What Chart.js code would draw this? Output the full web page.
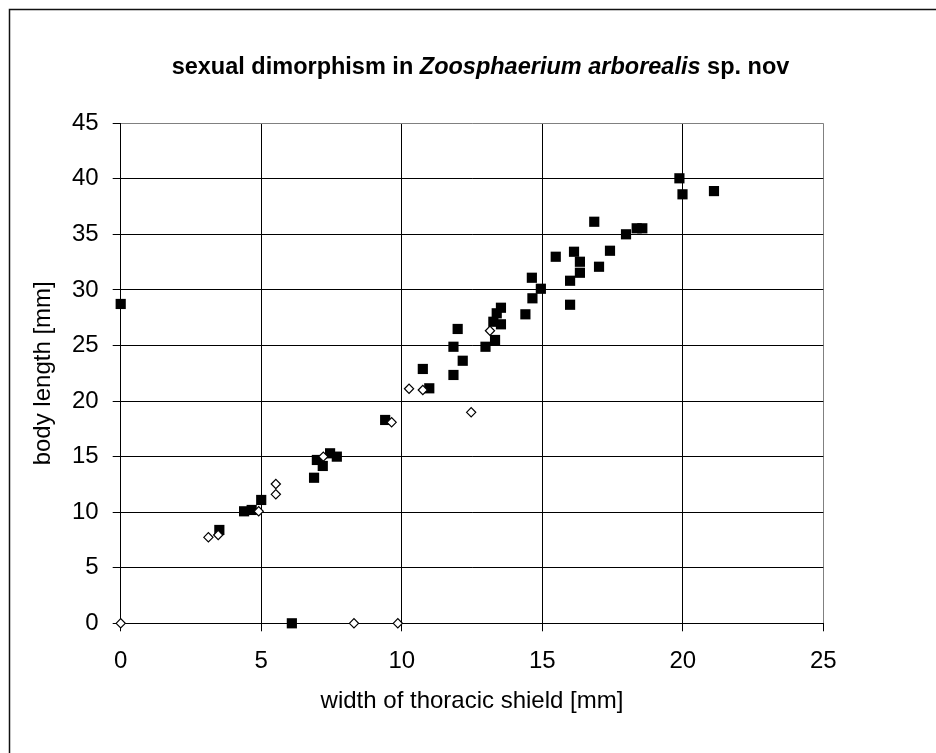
<!DOCTYPE html>
<html lang="en">
<head>
    <meta charset="UTF-8" />
    <title>sexual dimorphism in Zoosphaerium arborealis sp. nov</title>
    <style>
        body {
            margin: 0;
            padding: 0;
            background-color: #ffffff;
        }

        #wrap {
            width: 936px;
            height: 753px;
        }
    </style>
    <script src="https://cdn.jsdelivr.net/npm/chart.js"></script>
</head>
<body>
    <div id="wrap">
        <canvas id="dimorphChart" width="936" height="753"></canvas>
    </div>

    <script>
    // filled squares
    const filledX = [0, 6.09, 3.51, 4.39, 4.66, 5.0, 6.88, 6.98, 7.19, 7.45, 7.69, 9.41,
      10.98, 10.75, 11.84, 11.99, 11.84, 12.17, 12.98, 13.32, 13.26, 13.38, 13.53, 13.53,
      14.40, 14.65, 14.63, 14.95, 15.48, 15.99, 15.99, 16.13, 16.34, 16.34, 16.85, 17.02,
      17.41, 17.98, 18.36, 18.56, 19.88, 19.99, 21.11];
    const filledY = [28.74, 0, 8.40, 10.08, 10.2, 11.1, 13.1, 14.7, 14.16, 15.3, 15.0, 18.3,
      21.15, 22.89, 22.35, 26.49, 24.89, 23.63, 24.89, 25.5, 27.14, 27.9, 28.4, 26.91,
      27.81, 29.25, 31.1, 30.11, 32.99, 28.67, 30.83, 33.44, 32.54, 31.55, 36.14, 32.09,
      33.53, 35.01, 35.55, 35.55, 40.05, 38.61, 38.9];

    // open diamonds
    const openX = [0, 8.30, 9.86, 3.12, 3.47, 4.91, 5.52, 5.52, 7.21, 9.64, 10.26, 10.75, 12.47, 13.14];
    const openY = [0, 0, 0, 7.74, 7.95, 10.08, 12.54, 11.61, 15.0, 18.09, 21.11, 21.0, 18.99, 26.33];

    const titleParts = [
      ['sexual dimorphism in ', 'bold'],
      ['Zoosphaerium arborealis', 'italic bold'],
      [' sp. nov', 'bold']
    ];
    const xTitle = 'width of thoracic shield [mm]';
    const yTitle = 'body length [mm]';

    const FONT = '"Liberation Sans", Arial, sans-serif';

    function toPoints(xs, ys) {
      return xs.map((x, i) => ({ x: x, y: ys[i] }));
    }

    // frame round the whole chart and the mixed-style title
    const decor = {
      id: 'decor',
      afterDraw(chart) {
        const ctx = chart.ctx;
        ctx.save();
        ctx.strokeStyle = '#111';
        ctx.lineWidth = 1.5;
        ctx.strokeRect(9.5, 9.5, 1000, 1000);

        ctx.fillStyle = '#000';
        ctx.textBaseline = 'alphabetic';
        let total = 0;
        titleParts.forEach(p => {
          ctx.font = p[1] + ' 23.5px ' + FONT;
          total += ctx.measureText(p[0]).width;
        });
        let x = 480.5 - total / 2;
        titleParts.forEach(p => {
          ctx.font = p[1] + ' 23.5px ' + FONT;
          ctx.fillText(p[0], x, 73.5);
          x += ctx.measureText(p[0]).width;
        });
        ctx.restore();
      }
    };

    new Chart(document.getElementById('dimorphChart'), {
      type: 'scatter',
      data: {
        datasets: [{
          label: 'filled',
          data: toPoints(filledX, filledY),
          pointStyle: 'rect',
          pointRadius: 7.2,
          pointHoverRadius: 7.2,
          backgroundColor: '#000',
          borderColor: '#000',
          borderWidth: 0,
          clip: false,
          order: 2
        }, {
          label: 'open',
          data: toPoints(openX, openY),
          pointStyle: 'rectRot',
          pointRadius: 4.6,
          pointHoverRadius: 4.6,
          backgroundColor: '#fff',
          borderColor: '#000',
          borderWidth: 1.2,
          clip: false,
          order: 1
        }]
      },
      options: {
        responsive: false,
        animation: false,
        layout: { padding: { left: 0, top: 123.3, right: 112.7, bottom: 0 } },
        plugins: {
          legend: { display: false },
          tooltip: { enabled: false }
        },
        scales: {
          x: {
            type: 'linear',
            min: 0,
            max: 25,
            afterFit: s => { s.height = 129.7; },
            ticks: {
              stepSize: 5,
              padding: 16,
              color: '#000',
              font: { family: FONT, size: 24 }
            },
            grid: {
              color: c => c.tick && c.tick.value === 25 ? '#808080' : '#000',
              tickColor: '#000',
              tickLength: 8,
              lineWidth: 1
            },
            border: { color: '#000', width: 1 },
            title: {
              display: true,
              text: xTitle,
              color: '#000',
              font: { family: FONT, size: 24 },
              padding: { top: 0, bottom: 37 }
            }
          },
          y: {
            type: 'linear',
            min: 0,
            max: 45,
            afterFit: s => { s.width = 120.7; },
            ticks: {
              stepSize: 5,
              padding: 14,
              color: '#000',
              font: { family: FONT, size: 24 }
            },
            grid: {
              color: c => c.tick && c.tick.value === 45 ? '#808080' : '#000',
              tickColor: '#000',
              tickLength: 8,
              lineWidth: 1
            },
            border: { color: '#000', width: 1 },
            title: {
              display: true,
              text: yTitle,
              color: '#000',
              font: { family: FONT, size: 24 },
              padding: { top: 29, bottom: 0 }
            }
          }
        }
      },
      plugins: [decor]
    });
    </script>
</body>
</html>
